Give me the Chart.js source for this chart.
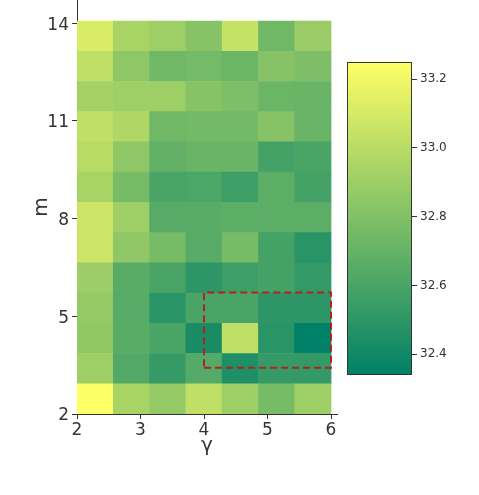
<!DOCTYPE html>
<html><head><meta charset="utf-8">
<script src="https://cdn.jsdelivr.net/npm/chart.js@4/dist/chart.umd.min.js"></script>
<style>
html,body{margin:0;padding:0;background:#fff;}
#wrap{position:relative;width:479px;height:495px;background:#fff;}
canvas{position:absolute;left:0;top:0;}
</style>
</head><body>
<div id="wrap"><canvas id="heat" width="479" height="495"></canvas><canvas id="cbar" width="479" height="495"></canvas></div>
<script>
// ---- data ----
const gammaValues = [2, 2.667, 3.333, 4, 4.667, 5.333, 6];
const mValues = [2, 3, 4, 5, 6, 7, 8, 9, 10, 11, 12, 13, 14];
const xTicks = [2, 3, 4, 5, 6];
const yTicks = [2, 5, 8, 11, 14];
const cbarTicks = [32.4, 32.6, 32.8, 33.0, 33.2];
// one row per m value, one entry per gamma value
const m2  = [33.250, 32.941, 32.868, 33.023, 32.904, 32.768, 32.904];
const m3  = [32.904, 32.631, 32.531, 32.640, 32.449, 32.531, 32.522];
const m4  = [32.859, 32.659, 32.604, 32.431, 33.023, 32.486, 32.340];
const m5  = [32.868, 32.649, 32.486, 32.604, 32.604, 32.504, 32.504];
const m6  = [32.895, 32.659, 32.604, 32.504, 32.558, 32.586, 32.522];
const m7  = [33.068, 32.850, 32.768, 32.649, 32.768, 32.586, 32.486];
const m8  = [33.068, 32.904, 32.649, 32.659, 32.668, 32.668, 32.668];
const m9  = [32.941, 32.768, 32.604, 32.613, 32.558, 32.668, 32.586];
const m10 = [32.995, 32.850, 32.686, 32.713, 32.713, 32.586, 32.604];
const m11 = [33.023, 32.968, 32.740, 32.750, 32.750, 32.822, 32.713];
const m12 = [32.922, 32.904, 32.904, 32.822, 32.786, 32.722, 32.713];
const m13 = [33.023, 32.850, 32.740, 32.759, 32.722, 32.822, 32.786];
const m14 = [33.114, 32.941, 32.904, 32.822, 33.041, 32.740, 32.886];
const rows = [m2, m3, m4, m5, m6, m7, m8, m9, m10, m11, m12, m13, m14];
// dashed highlight box (gamma, m)
const boxGamma = [4, 6, 6, 4, 4];
const boxM = [3.42, 3.42, 5.73, 5.73, 3.42];
const extent = {xMin: 2, xMax: 6, yMin: 2, yMax: 14.07};

// ---- helpers ----
const allVals = rows.flat();
const vmin = Math.min(...allVals), vmax = Math.max(...allVals);
function summer(v) {
  const t = Math.max(0, Math.min(1, (v - vmin) / (vmax - vmin)));
  return `rgb(${Math.round(255 * t)},${Math.round(127.5 + 127.5 * t)},102)`;
}
const cw = (extent.xMax - extent.xMin) / gammaValues.length;
const ch = (extent.yMax - extent.yMin) / mValues.length;

const FONT = "'DejaVu Sans', sans-serif";
const TXT = '#333';

const datasets = [];
datasets.push({
  type: 'line',
  order: -1,
  data: boxGamma.map((g, i) => ({x: g, y: boxM[i]})),
  borderColor: '#b22222',
  borderWidth: 2,
  borderDash: [7, 4],
  pointRadius: 0,
  fill: false,
  tension: 0,
  clip: false
});
rows.forEach((row, r) => {
  datasets.push({
    type: 'bar',
    data: row.map((v, c) => ({
      x: extent.xMin + (c + 0.5) * cw,
      y: [extent.yMin + r * ch, extent.yMin + (r + 1) * ch]
    })),
    backgroundColor: row.map(summer),
    borderWidth: 0,
    barPercentage: 1,
    categoryPercentage: 1,
    grouped: false
  });
});

new Chart(document.getElementById('heat'), {
  type: 'bar',
  data: {datasets},
  options: {
    responsive: false,
    animation: false,
    devicePixelRatio: 1,
    layout: {padding: {left: 0, top: 0, right: 142, bottom: 0}},
    plugins: {legend: {display: false}, tooltip: {enabled: false}},
    scales: {
      x: {
        type: 'linear', offset: false, min: 2, max: 6.094,
        afterBuildTicks: s => { s.ticks = xTicks.map(v => ({value: v})); },
        afterFit: s => { s.height = 81; s.paddingLeft = 0; s.paddingRight = 0; },
        grid: {display: true, offset: false, drawOnChartArea: false, drawTicks: true, tickLength: 5, color: TXT, lineWidth: 1},
        border: {display: true, color: TXT, width: 1},
        ticks: {color: TXT, font: {family: FONT, size: 17}, padding: 1, maxRotation: 0, autoSkip: false},
        title: {display: true, text: 'γ', color: TXT, font: {family: FONT, size: 20}, padding: {top: 0, bottom: 37}}
      },
      y: {
        type: 'linear', min: 2, max: 14.715,
        afterBuildTicks: s => { s.ticks = yTicks.map(v => ({value: v})); },
        afterFit: s => { s.width = 77; s.paddingTop = 0; s.paddingBottom = 0; },
        grid: {display: true, offset: false, drawOnChartArea: false, drawTicks: true, tickLength: 5, color: TXT, lineWidth: 1},
        border: {display: true, color: TXT, width: 1},
        ticks: {color: TXT, font: {family: FONT, size: 17}, padding: 3, labelOffset: 2, autoSkip: false},
        title: {display: true, text: 'm', color: TXT, font: {family: FONT, size: 20}, padding: {top: 30, bottom: 0}}
      }
    }
  }
});

// ---- colorbar ----
new Chart(document.getElementById('cbar'), {
  type: 'bar',
  data: {
    labels: ['cb'],
    datasets: [{
      data: [[vmin, vmax]],
      backgroundColor: (ctx) => {
        const chart = ctx.chart;
        const ys = chart.scales.y;
        if (!chart.chartArea || !ys) return summer(vmin);
        const g = chart.ctx.createLinearGradient(0, ys.getPixelForValue(vmin), 0, ys.getPixelForValue(vmax));
        g.addColorStop(0, summer(vmin));
        g.addColorStop(1, summer(vmax));
        return g;
      },
      borderColor: TXT,
      borderWidth: 1.3,
      borderSkipped: false,
      barPercentage: 1,
      categoryPercentage: 1
    }]
  },
  options: {
    responsive: false,
    animation: false,
    devicePixelRatio: 1,
    layout: {padding: {left: 347, top: 62, right: 0, bottom: 120}},
    plugins: {legend: {display: false}, tooltip: {enabled: false}},
    scales: {
      x: {display: false},
      y: {
        position: 'right', min: vmin, max: vmax,
        afterBuildTicks: s => { s.ticks = cbarTicks.map(v => ({value: v})); },
        afterFit: s => { s.width = 67; },
        grid: {display: true, drawOnChartArea: false, drawTicks: true, tickLength: 5, color: TXT, lineWidth: 1},
        border: {display: false},
        ticks: {color: TXT, font: {family: FONT, size: 12}, padding: 3, callback: v => Number(v).toFixed(1)}
      }
    }
  }
});
</script>
</body></html>
